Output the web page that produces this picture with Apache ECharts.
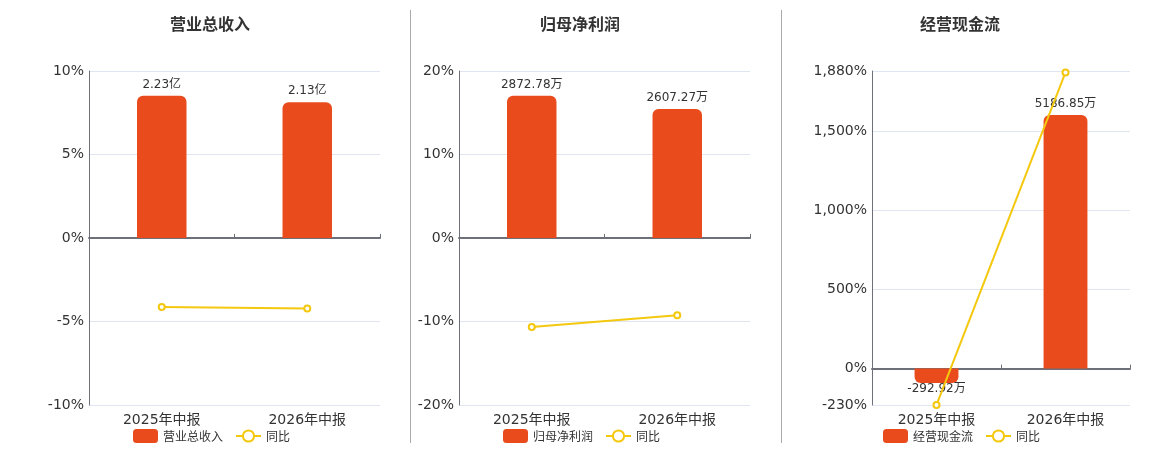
<!DOCTYPE html>
<html>
<head>
<meta charset="utf-8">
<style>
  html, body { margin: 0; padding: 0; background: #fff; }
  #chart { width: 1160px; height: 450px; }
</style>
<script src="https://cdn.jsdelivr.net/npm/echarts@6/dist/echarts.min.js"></script>
</head>
<body>
<div id="chart"></div>
<script>
// 数据
const periods = ['2025年中报', '2026年中报']
const titles = ['营业总收入', '归母净利润', '经营现金流']
const units = ['亿', '万', '万']
const revenue = [2.23, 2.13]
const revenueYoy = [-4.13, -4.22]
const profit = [2872.78, 2607.27]
const profitYoy = [-10.66, -9.24]
const cashflow = [-292.92, 5186.85]
const cashflowYoy = [-229.5, 1870.7]
// 同比轴范围
const yoyMin = [-10, -20, -230]
const yoyMax = [10, 20, 1880]
const yoyStep = [5, 10, null]

const barValues = [revenue, profit, cashflow]
const yoyValues = [revenueYoy, profitYoy, cashflowYoy]

const BAR_COLOR = '#E94B1C'
const LINE_COLOR = '#F4C80E'
const TEXT = '#333'
const FONT = '"DejaVu Sans", "Noto Sans CJK SC", sans-serif'
const TITLE_FONT = '"Noto Sans CJK SC", sans-serif'

const grids = [
  { left: 89, width: 291, top: 71, height: 334 },
  { left: 459, width: 291, top: 71, height: 334 },
  { left: 872, width: 258, top: 71, height: 334 }
]
const centers = [205, 575, 955]
const legendLeft = [128, 498, 878]

const pct = v => v.toLocaleString('en-US') + '%'

const option = {
  animation: false,
  textStyle: { fontFamily: FONT },
  title: [],
  legend: [],
  grid: grids,
  xAxis: [],
  yAxis: [],
  series: [],
  graphic: [410, 781].map(x => ({
    type: 'line',
    shape: { x1: x + 0.5, y1: 10, x2: x + 0.5, y2: 443 },
    style: { stroke: '#aaa', lineWidth: 1 }
  }))
}

titles.forEach((name, i) => {
  option.title.push({
    text: name,
    left: centers[i],
    top: 11,
    textAlign: 'center',
    textStyle: { fontSize: 16, fontWeight: 'bold', color: TEXT, fontFamily: TITLE_FONT }
  })
  option.legend.push({
    left: legendLeft[i],
    top: 424,
    itemWidth: 25,
    itemHeight: 14,
    itemGap: 12,
    textStyle: { fontSize: 12, color: TEXT, fontFamily: TITLE_FONT },
    data: [
      { name: name, icon: 'roundRect' },
      { name: '同比' }
    ]
  })

  // 底部标签轴 + 零线轴
  option.xAxis.push({
    type: 'category',
    gridIndex: i,
    data: periods,
    axisLine: { show: false },
    axisTick: { show: false },
    axisLabel: { fontSize: 14, color: TEXT, margin: 8, fontFamily: FONT }
  })
  option.xAxis.push({
    type: 'category',
    gridIndex: i,
    data: periods,
    axisLine: { show: true, onZero: true, lineStyle: { color: '#6E7079', width: 2 } },
    axisTick: { show: true, length: 4, lineStyle: { color: '#6E7079' } },
    axisLabel: { show: false }
  })

  // 同比轴
  const yoyAxis = {
    type: 'value',
    gridIndex: i,
    min: yoyMin[i],
    max: yoyMax[i],
    axisLine: { show: true, lineStyle: { color: '#6E7079' } },
    axisTick: { show: false },
    splitLine: { lineStyle: { color: '#E0E6F1' } },
    axisLabel: { fontSize: 14, color: TEXT, margin: 5, formatter: pct, fontFamily: FONT }
  }
  if (yoyStep[i]) yoyAxis.interval = yoyStep[i]
  option.yAxis.push(yoyAxis)

  // 金额轴（隐藏，零点与同比轴对齐）
  const top = Math.max(...barValues[i]) * 1.174
  option.yAxis.push({
    type: 'value',
    gridIndex: i,
    show: false,
    min: top * yoyMin[i] / yoyMax[i],
    max: top,
    splitLine: { show: false }
  })

  option.series.push({
    name: name,
    type: 'bar',
    xAxisIndex: i * 2,
    yAxisIndex: i * 2 + 1,
    barWidth: '34%',
    itemStyle: { color: BAR_COLOR },
    label: {
      show: true,
      fontSize: 12,
      color: TEXT,
      fontFamily: FONT,
      formatter: p => p.value + units[i]
    },
    data: barValues[i].map(v => v < 0
      ? { value: v, itemStyle: { borderRadius: [0, 0, 6, 6] }, label: { position: 'bottom', distance: 0 } }
      : { value: v, itemStyle: { borderRadius: [6, 6, 0, 0] }, label: { position: 'top' } })
  })
  option.series.push({
    name: '同比',
    type: 'line',
    xAxisIndex: i * 2,
    yAxisIndex: i * 2,
    symbol: 'emptyCircle',
    symbolSize: 6,
    itemStyle: { color: LINE_COLOR },
    lineStyle: { color: LINE_COLOR, width: 2 },
    z: 5,
    data: yoyValues[i]
  })
})

const el = echarts.init(document.getElementById('chart'))
el.setOption(option)
window.addEventListener('resize', () => el.resize())
</script>
</body>
</html>
